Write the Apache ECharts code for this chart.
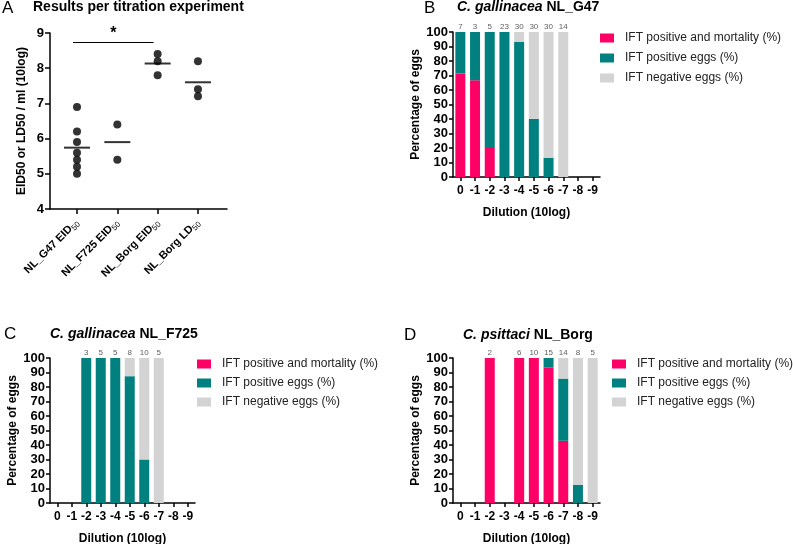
<!DOCTYPE html>
<html><head><meta charset="utf-8">
<script src="https://cdn.jsdelivr.net/npm/echarts@6/dist/echarts.min.js"></script>
<style>html,body{margin:0;padding:0;background:#fff}#c{width:793px;height:544px}</style>
</head><body><div id="c"></div>
<script>
// ---------- Panel A data ----------
const groupLabels = ['NL_G47 EID', 'NL_F725 EID', 'NL_Borg EID', 'NL_Borg LD'];
const groupSub = ['50', '50', '50', '50'];
const g47EID = [6.9, 6.2, 5.9, 5.6, 5.4, 5.2, 5.0];
const f725EID = [6.4, 5.4];
const borgEID = [8.4, 8.2, 7.8];
const borgLD = [8.2, 7.4, 7.2];
const sigGroups = [0.9, 2.9];
const sigLevel = [8.75];
const sigText = '*';

// ---------- Bar panels data ----------
const dilutions = ['0', '-1', '-2', '-3', '-4', '-5', '-6', '-7', '-8', '-9'];
const seriesNames = ['IFT positive and mortality (%)', 'IFT positive eggs (%)', 'IFT negative eggs (%)'];

const g47Mort = [71.4, 66.7, 20, 0, 0, 0, 0, 0, null, null];
const g47Pos  = [28.6, 33.3, 80, 100, 93.3, 40, 13.3, 0, null, null];
const g47Neg  = [0, 0, 0, 0, 6.7, 60, 86.7, 100, null, null];
const g47N    = [7, 3, 5, 23, 30, 30, 30, 14, null, null];

const f725Mort = [null, null, 0, 0, 0, 0, 0, 0, null, null];
const f725Pos  = [null, null, 100, 100, 100, 87.5, 30, 0, null, null];
const f725Neg  = [null, null, 0, 0, 0, 12.5, 70, 100, null, null];
const f725N    = [null, null, 3, 5, 5, 8, 10, 5, null, null];

const borgMort = [null, null, 100, null, 100, 100, 93.3, 42.9, 0, 0];
const borgPos  = [null, null, 0, null, 0, 0, 6.7, 42.9, 12.5, 0];
const borgNeg  = [null, null, 0, null, 0, 0, 0, 14.3, 87.5, 100];
const borgN    = [null, null, 2, null, 6, 10, 15, 14, 8, 5];

// ---------- styles ----------
const FONT = '"Liberation Sans", Arial, sans-serif';
const colors = ['#FF0066', '#00807F', '#D3D3D3'];
const axisLineStyle = { show: true, lineStyle: { color: '#000', width: 1.5 } };
const tickStyle = { show: true, length: 4, lineStyle: { color: '#000', width: 1.5 } };
const tickLbl = { color: '#000', fontWeight: 'bold', fontSize: 13, fontFamily: FONT };
const nameStyle = { color: '#000', fontWeight: 'bold', fontSize: 12, fontFamily: FONT };

const groupsA = [g47EID, f725EID, borgEID, borgLD];
const mean = a => a.reduce((s, v) => s + v, 0) / a.length;

const grids = [
  { left: 50, top: 33, width: 177, height: 176 },   // A
  { left: 453, top: 32, width: 147, height: 145 },  // B
  { left: 50, top: 358, width: 145, height: 145 },  // C
  { left: 453, top: 358, width: 147, height: 145 }  // D
].map(g => Object.assign({ outerBoundsMode: 'none', containLabel: false }, g));

const xAxes = [
  {
    gridIndex: 0, type: 'value', min: 0.33, max: 4.72,
    splitLine: { show: false }, axisLine: axisLineStyle,
    axisTick: Object.assign({}, tickStyle, { customValues: [1, 2, 3, 4], length: 5 }),
    axisLabel: {
      customValues: [1, 2, 3, 4], rotate: 45, margin: 12,
      formatter: v => groupLabels[Math.round(v) - 1] + '{s|' + groupSub[Math.round(v) - 1] + '}',
      color: '#000', fontWeight: 'bold', fontSize: 11, fontFamily: FONT,
      rich: { s: { fontSize: 8, fontWeight: 'normal', color: '#000', fontFamily: FONT, padding: [6, 0, 0, 0] } }
    }
  }
];
const yAxes = [
  {
    gridIndex: 0, type: 'value', min: 4, max: 9, interval: 1,
    splitLine: { show: false }, axisLine: axisLineStyle, axisTick: Object.assign({}, tickStyle, { length: 5 }),
    axisLabel: Object.assign({ margin: 6 }, tickLbl),
    name: 'EID50 or LD50 / ml (10log)', nameLocation: 'middle', nameGap: 22, nameTextStyle: nameStyle
  }
];
for (let k = 1; k <= 3; k++) {
  xAxes.push({
    gridIndex: k, type: 'category', data: dilutions,
    axisLine: axisLineStyle, axisTick: Object.assign({ alignWithLabel: true, interval: 0 }, tickStyle),
    axisLabel: Object.assign({}, tickLbl, { margin: 8, interval: 0, hideOverlap: false, fontSize: 12 }),
    name: 'Dilution (10log)', nameLocation: 'middle', nameGap: 30, nameTextStyle: nameStyle
  });
  yAxes.push({
    gridIndex: k, type: 'value', min: 0, max: 100, interval: 10,
    splitLine: { show: false }, axisLine: axisLineStyle, axisTick: tickStyle,
    axisLabel: Object.assign({ margin: 5 }, tickLbl),
    name: 'Percentage of eggs', nameLocation: 'middle', nameGap: 31, nameTextStyle: nameStyle
  });
}

const series = [];
// Panel A dots
groupsA.forEach((arr, gi) => {
  series.push({
    type: 'scatter', xAxisIndex: 0, yAxisIndex: 0, symbolSize: 8,
    itemStyle: { color: '#000' }, data: arr.map(v => [gi + 1, v]), z: 3,
    markLine: gi === 0 ? {
      symbol: 'none', silent: true,
      lineStyle: { color: '#000', width: 1.2, type: 'solid' },
      label: { show: true, position: 'middle', formatter: sigText, color: '#000', fontSize: 16, fontWeight: 'bold', fontFamily: FONT, distance: 0 },
      data: [[{ coord: [sigGroups[0], sigLevel[0]] }, { coord: [sigGroups[1], sigLevel[0]] }]]
    } : undefined
  });
});
series.push({
  type: 'scatter', xAxisIndex: 0, yAxisIndex: 0, symbol: 'rect', symbolSize: [26, 2],
  itemStyle: { color: '#000' }, z: 4,
  data: groupsA.map((arr, gi) => [gi + 1, mean(arr)])
});

const panels = [
  [g47Mort, g47Pos, g47Neg, g47N],
  [f725Mort, f725Pos, f725Neg, f725N],
  [borgMort, borgPos, borgNeg, borgN]
];
panels.forEach((p, k) => {
  const ai = k + 1;
  for (let s = 0; s < 3; s++) {
    series.push({
      name: seriesNames[s], type: 'bar', stack: 'st' + ai, xAxisIndex: ai, yAxisIndex: ai,
      barWidth: 10, itemStyle: { color: colors[s] }, data: p[s]
    });
  }
  series.push({
    type: 'scatter', xAxisIndex: ai, yAxisIndex: ai, symbolSize: 1,
    itemStyle: { color: 'rgba(0,0,0,0)' }, silent: true,
    label: { show: true, position: 'top', distance: 1, formatter: q => q.value[2], color: '#333', fontSize: 8, fontFamily: FONT },
    data: p[3].map((c, i) => c == null ? null : [i, 100, c]).filter(d => d)
  });
});

const legendBase = {
  orient: 'vertical', icon: 'rect', itemWidth: 14, itemHeight: 9, itemGap: 7,
  data: seriesNames, selectedMode: false,
  textStyle: { color: '#222', fontSize: 12, fontFamily: FONT, padding: [0, 0, 0, 6] }, padding: 0
};
const legends = [
  Object.assign({}, legendBase, { left: 600, top: 32, itemGap: 8 }),
  Object.assign({}, legendBase, { left: 197, top: 358 }),
  Object.assign({}, legendBase, { left: 612, top: 358 })
];

const titleRich = {
  i: { fontStyle: 'italic', fontWeight: 'bold', fontSize: 14, color: '#000', fontFamily: FONT },
  b: { fontWeight: 'bold', fontSize: 14, color: '#000', fontFamily: FONT }
};
const mkTitle = (text, left, top, size, weight) => ({
  text, left, top, padding: 0,
  textStyle: { fontSize: size, fontWeight: weight, color: '#000', fontFamily: FONT, rich: titleRich }
});
const titles = [
  mkTitle('A', 2, 0, 17, 'normal'),
  mkTitle('Results per titration experiment', 33, 0, 14, 'bold'),
  mkTitle('B', 424, 0, 17, 'normal'),
  mkTitle('{i|C. gallinacea} {b|NL_G47}', 457, 0, 14, 'bold'),
  mkTitle('C', 4, 326, 17, 'normal'),
  mkTitle('{i|C. gallinacea} {b|NL_F725}', 50, 327, 14, 'bold'),
  mkTitle('D', 404, 327, 17, 'normal'),
  mkTitle('{i|C. psittaci} {b|NL_Borg}', 463, 328, 14, 'bold')
];

const chart = echarts.init(document.getElementById('c'), null, { renderer: 'canvas' });
chart.setOption({
  animation: false, backgroundColor: '#fff',
  title: titles, grid: grids, xAxis: xAxes, yAxis: yAxes, legend: legends, series
});
</script></body></html>
